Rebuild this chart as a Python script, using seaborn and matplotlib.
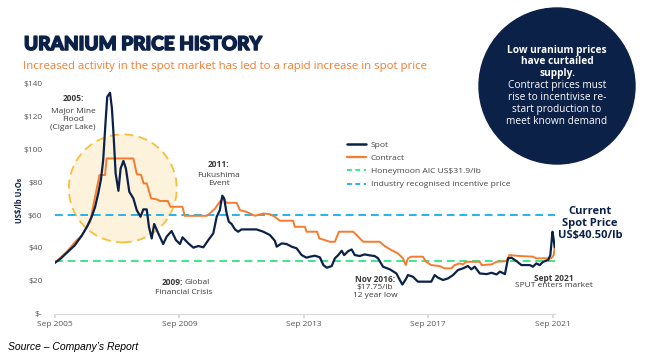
import matplotlib as mpl
import matplotlib.pyplot as plt
import matplotlib.patheffects as pe
from matplotlib.lines import Line2D
from matplotlib.patches import Ellipse
import seaborn as sns
import pandas as pd

NAVY = '#0c2148'
ORANGE = '#f57b2f'
GREEN = '#3ee58a'
BLUE = '#22b3f0'
TXT = '#3a3a3a'

# (decimal year, US$/lb)
spot_points = [
    (2005.67, 31.0), (2005.85, 33.5), (2006.05, 37.1), (2006.30, 41.5), (2006.53, 47.5),
    (2006.70, 53.0), (2006.85, 59.0), (2006.96, 65.0), (2007.06, 73.2), (2007.15, 82.0),
    (2007.22, 93.5), (2007.29, 115.0), (2007.35, 132.0), (2007.44, 134.5), (2007.50, 125.0),
    (2007.55, 110.0), (2007.62, 85.4), (2007.71, 74.8), (2007.78, 88.4), (2007.87, 93.0),
    (2007.95, 88.4), (2008.06, 74.2), (2008.19, 70.2), (2008.30, 63.0), (2008.42, 59.0),
    (2008.51, 63.5), (2008.62, 63.5), (2008.69, 53.0), (2008.78, 45.8), (2008.86, 54.6),
    (2008.99, 49.0), (2009.15, 42.4), (2009.26, 46.9), (2009.42, 50.3), (2009.56, 44.8),
    (2009.69, 42.4), (2009.77, 46.5), (2009.96, 42.8), (2010.12, 40.2), (2010.28, 41.2),
    (2010.44, 40.4), (2010.60, 44.8), (2010.76, 48.9), (2010.87, 59.0), (2010.97, 63.0),
    (2011.05, 71.8), (2011.11, 70.2), (2011.19, 61.0), (2011.26, 56.0), (2011.35, 54.6),
    (2011.46, 51.3), (2011.56, 49.9), (2011.67, 51.3), (2011.88, 51.3), (2012.15, 51.3),
    (2012.37, 49.9), (2012.58, 47.9), (2012.74, 44.4), (2012.80, 40.8), (2012.96, 42.8),
    (2013.12, 42.4), (2013.28, 40.8), (2013.44, 39.8), (2013.60, 35.7), (2013.76, 34.1),
    (2013.87, 34.7), (2014.03, 35.3), (2014.19, 34.3), (2014.30, 29.6), (2014.41, 28.0),
    (2014.57, 29.0), (2014.67, 33.7), (2014.78, 35.7), (2014.89, 38.3), (2014.97, 35.7),
    (2015.10, 38.1), (2015.21, 39.1), (2015.31, 35.7), (2015.47, 35.1), (2015.63, 36.1),
    (2015.79, 35.5), (2015.95, 35.1), (2016.06, 33.7), (2016.22, 28.6), (2016.44, 27.0),
    (2016.65, 24.5), (2016.76, 20.5), (2016.84, 17.75), (2016.95, 20.9), (2017.02, 23.5),
    (2017.18, 22.5), (2017.34, 19.5), (2017.56, 19.5), (2017.77, 19.5), (2017.88, 23.5),
    (2017.99, 21.9), (2018.15, 20.5), (2018.31, 21.5), (2018.47, 23.5), (2018.63, 26.6),
    (2018.79, 27.6), (2018.95, 29.0), (2019.06, 27.0), (2019.17, 28.6), (2019.33, 24.5),
    (2019.55, 24.1), (2019.71, 24.9), (2019.87, 23.9), (2019.98, 25.6), (2020.14, 24.1),
    (2020.24, 33.7), (2020.35, 34.1), (2020.51, 32.0), (2020.67, 29.6), (2020.94, 29.6),
    (2021.04, 28.6), (2021.15, 30.6), (2021.26, 29.6), (2021.37, 31.6), (2021.53, 32.7),
    (2021.60, 35.7), (2021.67, 49.9), (2021.71, 44.8), (2021.74, 40.5),
]

contract_points = [
    (2005.67, 31.0), (2006.05, 37.7), (2006.37, 44.8), (2006.53, 47.5), (2006.80, 56.0),
    (2006.96, 71.2), (2007.10, 84.4), (2007.28, 84.4), (2007.33, 94.5), (2008.19, 94.5),
    (2008.30, 85.0), (2008.44, 84.4), (2008.52, 79.3), (2008.62, 79.3), (2008.76, 70.2),
    (2008.94, 69.6), (2009.05, 68.6), (2009.30, 68.6), (2009.38, 65.1), (2009.77, 65.1),
    (2009.84, 59.6), (2010.55, 59.6), (2010.65, 61.0), (2010.82, 64.1), (2010.97, 68.2),
    (2011.08, 70.2), (2011.19, 67.5), (2011.51, 67.5), (2011.62, 63.0), (2011.83, 62.0),
    (2012.10, 59.6), (2012.37, 61.0), (2012.58, 60.6), (2012.74, 59.0), (2012.90, 56.6),
    (2013.33, 56.6), (2013.38, 52.9), (2013.71, 52.9), (2013.76, 49.9), (2014.10, 49.9),
    (2014.17, 45.8), (2014.35, 44.8), (2014.51, 43.8), (2014.67, 43.8), (2014.80, 49.9),
    (2015.26, 49.9), (2015.42, 46.9), (2015.58, 43.8), (2016.11, 43.8), (2016.27, 41.2),
    (2016.49, 38.7), (2016.70, 36.7), (2016.86, 33.7), (2016.95, 29.6), (2017.02, 33.7),
    (2017.13, 34.7), (2017.50, 34.7), (2017.61, 31.6), (2017.77, 29.6), (2018.04, 29.0),
    (2018.20, 27.6), (2018.42, 27.6), (2018.52, 29.6), (2018.68, 30.6), (2018.79, 30.0),
    (2018.90, 31.6), (2019.33, 31.6), (2019.39, 29.6), (2019.71, 30.0), (2019.87, 31.6),
    (2020.19, 32.0), (2020.28, 35.7), (2020.62, 35.1), (2021.04, 34.7), (2021.15, 33.7),
    (2021.63, 33.7), (2021.71, 35.7), (2021.74, 40.8),
]

honeymoon_aic = 31.9
incentive_price = 60.0

year_ticks = [2005.67, 2009.67, 2013.67, 2017.67, 2021.67]
year_labels = ['Sep 2005', 'Sep 2009', 'Sep 2013', 'Sep 2017', 'Sep 2021']
price_ticks = [0, 20, 40, 60, 80, 100, 120, 140]
price_labels = ['$-', '$20', '$40', '$60', '$80', '$100', '$120', '$140']

spot = pd.DataFrame(spot_points, columns=['year', 'price'])
contract = pd.DataFrame(contract_points, columns=['year', 'price'])

sns.set_theme(style='white')
plt.rcParams['font.family'] = ['Open Sans', 'DejaVu Sans']

fig = plt.figure(figsize=(6.58, 3.59), dpi=100)
ax = fig.add_axes([55 / 658, 45.3 / 359, 500 / 658, 230 / 359])

# highlight bubble round the 2007 spike
ax.add_patch(Ellipse((2007.85, 76.3), 3.47, 65.7, facecolor='#fdf2dc',
                     edgecolor='#f8bf3a', ls=(0, (5, 3)), lw=1.3, zorder=0))

ax.axhline(honeymoon_aic, color=GREEN, ls=(0, (4, 2.5)), lw=1.4, zorder=1)
ax.axhline(incentive_price, color=BLUE, ls=(0, (4, 2.5)), lw=1.4, zorder=1)

sns.lineplot(data=contract, x='year', y='price', color=ORANGE, lw=1.4,
             estimator=None, ax=ax, zorder=2)
sns.lineplot(data=spot, x='year', y='price', color=NAVY, lw=1.6,
             estimator=None, ax=ax, zorder=3)

ax.set(xlim=(2005.67, 2021.75), ylim=(0, 140), xlabel='', ylabel='')
ax.set_xticks(year_ticks, year_labels)
ax.set_yticks(price_ticks, price_labels)
ax.tick_params(axis='x', length=3, color='#d6d6d6', labelsize=6, labelcolor='#555555', pad=2)
ax.tick_params(axis='y', length=0, labelsize=6, labelcolor='#555555', pad=9)
ax.xaxis.set_ticks_position('bottom')
for s in ['left', 'right', 'top']:
    ax.spines[s].set_visible(False)
ax.spines['bottom'].set_color('#d9d9d9')
ax.spines['bottom'].set_linewidth(0.8)

fig.text(20 / 658, 1 - 200 / 359, 'US$/lb U₃O₈', rotation=90, fontsize=5.5,
         fontweight='bold', color=NAVY, ha='center', va='center')

# event notes
def note(x, y_head, y_body, head, body):
    ax.text(x, y_head, head, ha='center', va='center', fontsize=6,
            fontweight='bold', color=TXT)
    ax.text(x, y_body, body, ha='center', va='center', fontsize=6,
            color=TXT, linespacing=1.2)

note(2006.25, 130.7, 118.5, '2005:', 'Major Mine\nFlood\n(Cigar Lake)')
note(2010.94, 91.1, 81.4, '2011:', 'Fukushima\nEvent')
note(2015.96, 21.1, 13.5, 'Nov 2016:', '$17.75/lb\n12 year low')
note(2021.71, 21.7, 16.9, 'Sept 2021', 'SPUT enters market')
ax.text(2009.79, 18.7, '2009:', ha='right', va='center', fontsize=6,
        fontweight='bold', color=TXT)
ax.text(2009.85, 18.7, 'Global', ha='left', va='center', fontsize=6, color=TXT)
ax.text(2009.82, 13.2, 'Financial Crisis', ha='center', va='center', fontsize=6, color=TXT)

ax.text(2022.87, 54.9, 'Current\nSpot Price\nUS$40.50/lb', ha='center', va='center',
        fontsize=8, fontweight='bold', color=NAVY, linespacing=1.13)

handles = [
    Line2D([], [], color=NAVY, lw=1.8),
    Line2D([], [], color=ORANGE, lw=1.6),
    Line2D([], [], color=GREEN, lw=1.4, ls=(0, (2.5, 1.8))),
    Line2D([], [], color=BLUE, lw=1.4, ls=(0, (2.5, 1.8))),
]
labels = ['Spot', 'Contract', 'Honeymoon AIC US$31.9/lb', 'Industry recognised incentive price']
leg = ax.legend(handles, labels, loc='upper left', bbox_to_anchor=(347 / 658, 1 - 141 / 359),
                bbox_transform=fig.transFigure, frameon=False, fontsize=6.1,
                handlelength=2.2, handletextpad=0.6, labelspacing=0.62,
                borderpad=0, borderaxespad=0)
for t in leg.get_texts():
    t.set_color('#444444')

# header
fig.text(24 / 658, 1 - 44.5 / 359, 'URANIUM PRICE HISTORY', fontsize=13.7,
         fontweight='black', family='Lato', color=NAVY, va='center',
         path_effects=[pe.withStroke(linewidth=1.1, foreground=NAVY)])
fig.text(23 / 658, 1 - 67 / 359,
         'Increased activity in the spot market has led to a rapid increase in spot price',
         fontsize=8.2, color=ORANGE, va='center')

# call-out bubble
fig.add_artist(Ellipse((557 / 658, 1 - 86 / 359), 156 / 658, 156 / 359,
                       transform=fig.transFigure, color=NAVY, zorder=5))
fig.text(557 / 658, 1 - 62 / 359, 'Low uranium prices\nhave curtailed\nsupply.',
         ha='center', va='center', fontsize=7.3, fontweight='bold', color='white',
         linespacing=1.05, zorder=6)
fig.text(557 / 658, 1 - 103.5 / 359,
         'Contract prices must\nrise to incentivise re-\nstart production to\nmeet known demand',
         ha='center', va='center', fontsize=7.3, color='white', linespacing=1.1, zorder=6)

fig.text(8 / 658, 1 - 347 / 359, 'Source – Company’s Report', fontsize=7.5,
         style='italic', family='Liberation Sans', color='black', va='center')

fig.savefig('out.png', dpi=100, facecolor='white')
